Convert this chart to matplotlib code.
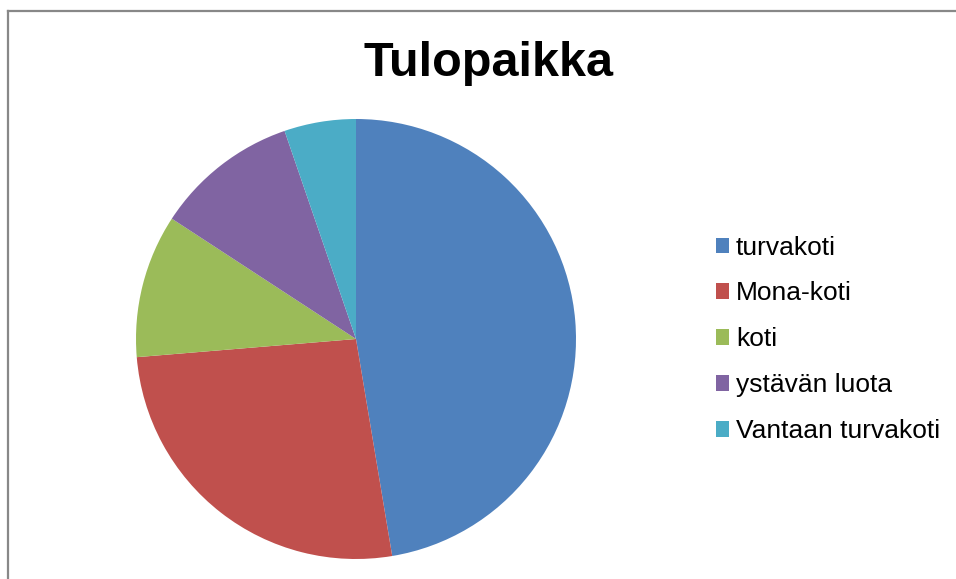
import matplotlib.pyplot as plt

plt.rcParams['font.family'] = ['Liberation Sans', 'DejaVu Sans']

# Data
labels = ['turvakoti', 'Mona-koti', 'koti', 'ystävän luota', 'Vantaan turvakoti']
values = [9, 5, 2, 2, 1]
colors = ['#4F81BD', '#C0504D', '#9BBB59', '#8064A2', '#4BACC6']

W, H = 956, 579
fig = plt.figure(figsize=(W / 100, H / 100), dpi=100)

# chart border (left and top only visible)
fig.add_artist(plt.Line2D([8 / W, 8 / W], [0, 1 - 11 / H], color='#888888', lw=1.6))
fig.add_artist(plt.Line2D([8 / W, 1], [1 - 11 / H, 1 - 11 / H], color='#888888', lw=1.6))

# Pie
cx, cy, r = 356, 339, 220
ax = fig.add_axes([(cx - r) / W, (H - cy - r) / H, 2 * r / W, 2 * r / H])
wedges, _ = ax.pie(values, colors=colors, startangle=90, counterclock=False,
                   wedgeprops=dict(linewidth=0))
ax.set_xlim(-1, 1)
ax.set_ylim(-1, 1)
ax.set_aspect('equal')
ax.axis('off')

fig.text(488 / W, 1 - 64 / H, 'Tulopaikka', ha='center', va='center',
         fontsize=35, fontweight='bold')

# Legend
leg = fig.legend(wedges, labels, loc='upper left', bbox_to_anchor=(705 / W, 1 - 225 / H),
                 frameon=False, fontsize=19, handlelength=0.52, handleheight=0.52,
                 handletextpad=0.25, labelspacing=0.83, borderaxespad=0)

fig.savefig('out.png', dpi=100, facecolor='white')
